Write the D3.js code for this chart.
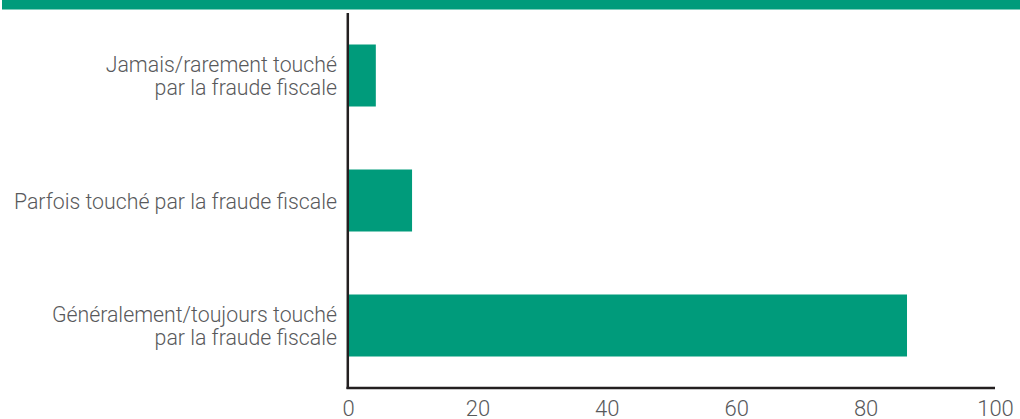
<!DOCTYPE html>
<html>
<head>
<meta charset="utf-8">
<script src="https://cdn.jsdelivr.net/npm/d3@7"></script>
<style>
  html, body { margin: 0; padding: 0; background: #fff; }
  svg { display: block; }
  text { font-family: "Helvetica Neue", Roboto, "Liberation Sans", sans-serif; font-weight: 300; }
</style>
</head>
<body>
<svg id="chart" width="1020" height="419"></svg>
<script>
const categories = [
  ["Jamais/rarement touché", "par la fraude fiscale"],
  ["Parfois touché par la fraude fiscale"],
  ["Généralement/toujours touché", "par la fraude fiscale"]
];
const values = [4.3, 9.9, 86.4];
const xTicks = [0, 20, 40, 60, 80, 100];

const W = 1020, H = 419;
const green = "#009b7b";
const axisColor = "#231f20";
const textColor = "#58595b";

const svg = d3.select("#chart");

// top band
svg.append("rect").attr("x", 2).attr("y", 0).attr("width", W - 2).attr("height", 9.5).attr("fill", green);

const x = d3.scaleLinear().domain([0, 100]).range([348, 995]);
const y = d3.scaleBand().domain(d3.range(categories.length)).range([13, 388])
  .paddingInner(0.504).paddingOuter(0.252);

// bars
svg.append("g").selectAll("rect").data(values).join("rect")
  .attr("x", x(0))
  .attr("y", (d, i) => y(i))
  .attr("width", d => x(d) - x(0))
  .attr("height", y.bandwidth())
  .attr("fill", green);

// category labels
const lh = 23.4;
const lab = svg.append("g").selectAll("text").data(categories).join("text")
  .attr("text-anchor", "end")
  .attr("fill", textColor)
  .attr("font-size", 21.3)
  .attr("transform", (d, i) => `translate(337,${y(i) + y.bandwidth() / 2})`);
lab.each(function(lines) {
  const t = d3.select(this);
  const off = -(lines.length - 1) * lh / 2 + 8;
  lines.forEach((l, k) => {
    t.append("tspan").attr("x", 0).attr("y", off + k * lh).text(l);
  });
});

// x axis
const xAxis = d3.axisBottom(x).tickValues(xTicks).tickSize(0).tickPadding(12).tickFormat(d3.format("d"));
const gx = svg.append("g").attr("transform", "translate(0,388)").call(xAxis);
gx.select(".domain").remove();
gx.selectAll("text").attr("fill", textColor).attr("font-size", 22)
  .style("font-family", "\"Helvetica Neue\", Roboto, \"Liberation Sans\", sans-serif").style("font-weight", 300);

// axis lines
svg.append("line").attr("x1", 346.5).attr("x2", 995).attr("y1", 388).attr("y2", 388)
  .attr("stroke", axisColor).attr("stroke-width", 2.5);
svg.append("line").attr("x1", 347.8).attr("x2", 347.8).attr("y1", 13).attr("y2", 389)
  .attr("stroke", axisColor).attr("stroke-width", 2.5);
</script>
</body>
</html>
